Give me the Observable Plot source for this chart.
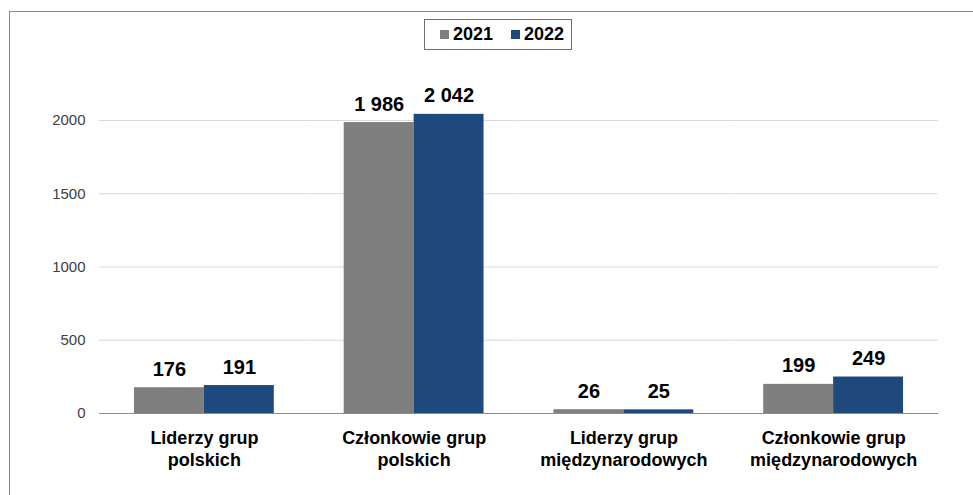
<!DOCTYPE html>
<html>
<head>
<meta charset="utf-8">
<script src="https://cdn.jsdelivr.net/npm/d3@7"></script>
<script src="https://cdn.jsdelivr.net/npm/@observablehq/plot@0.6"></script>
<style>
  html, body { margin: 0; padding: 0; background: #fff; overflow: hidden; }
  body { font-family: "Liberation Sans", Arial, sans-serif; }
  #wrap { position: relative; width: 973px; height: 495px; overflow: hidden; }
  #frame { position: absolute; left: 9px; top: 11px; width: 1000px; height: 600px;
           border-top: 1px solid #8c8c8c; border-left: 1px solid #8c8c8c; box-sizing: border-box; }
  #chart { position: absolute; left: 0; top: 0; }
  #legend { position: absolute; left: 424px; top: 19px; width: 148px; height: 31px; box-sizing: border-box;
            border: 1px solid #6e6e6e; background: #fff; display: flex; align-items: center;
            padding-left: 15px; font-weight: bold; font-size: 18px; color: #000; }
  .item { display: flex; align-items: center; }
  .item + .item { margin-left: 18px; }
  .sw { width: 9px; height: 9px; margin-right: 4px; }
</style>
</head>
<body>
<div id="wrap">
  <div id="frame"></div>
  <div id="chart"></div>
  <div id="legend"></div>
</div>
<script>
const categories = ["Liderzy grup\npolskich", "Członkowie grup\npolskich", "Liderzy grup\nmiędzynarodowych", "Członkowie grup\nmiędzynarodowych"];
const years = ["2021", "2022"];
const values2021 = [176, 1986, 26, 199];
const values2022 = [191, 2042, 25, 249];
const colors = ["#7f7f7f", "#1f497d"];
const yTicks = [0, 500, 1000, 1500, 2000];

const data = [];
categories.forEach((c, i) => {
  data.push({cat: c, year: years[0], value: values2021[i]});
  data.push({cat: c, year: years[1], value: values2022[i]});
});

const fmt = d3.formatLocale({decimal: ",", thousands: "\u00a0", grouping: [3], currency: ["", " zł"]}).format(",d");

const chart = Plot.plot({
  width: 973,
  height: 495,
  marginLeft: 99,
  marginRight: 35,
  marginTop: 120,
  marginBottom: 82,
  style: {fontFamily: "'Liberation Sans', Arial, sans-serif", background: "transparent", overflow: "visible"},
  fx: {domain: categories, padding: 0, round: false, label: null},
  x: {domain: years, paddingInner: 0, paddingOuter: 0.5, round: false, axis: null},
  y: {domain: [0, 2000], label: null},
  color: {domain: years, range: colors},
  marks: [
    Plot.gridY({ticks: yTicks, stroke: "#d9d9d9", strokeOpacity: 1}),
    Plot.barY(data, {fx: "cat", x: "year", y: "value", fill: "year"}),
    Plot.ruleY([0], {stroke: "#8c8c8c"}),
    Plot.text(data, {fx: "cat", x: "year", y: "value", text: d => fmt(d.value), lineAnchor: "bottom", dy: -12,
                     fontSize: 20, fontWeight: "bold", fill: "#000"}),
    Plot.axisY({ticks: yTicks, tickSize: 0, tickPadding: 14, fontSize: 15, fill: "#404040",
                tickFormat: d => String(d), label: null}),
    Plot.axisFx({anchor: "bottom", tickSize: 0, tickPadding: 16, fontSize: 18, fontWeight: "bold",
                 lineHeight: 1.17, lineAnchor: "top", fill: "#000", label: null})
  ]
});
document.getElementById("chart").appendChild(chart);

const legend = document.getElementById("legend");
years.forEach((y, i) => {
  const item = document.createElement("div");
  item.className = "item";
  const sw = document.createElement("div");
  sw.className = "sw";
  sw.style.background = colors[i];
  const t = document.createElement("span");
  t.textContent = y;
  item.appendChild(sw);
  item.appendChild(t);
  legend.appendChild(item);
});
</script>
</body>
</html>
